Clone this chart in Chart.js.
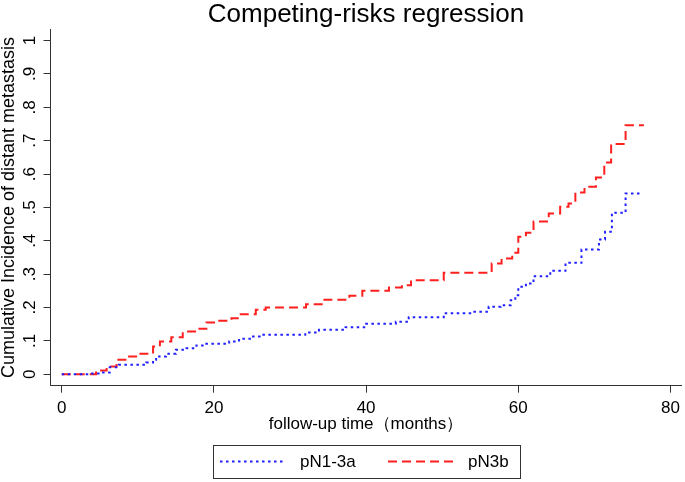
<!DOCTYPE html>
<html>
<head>
<meta charset="utf-8">
<script src="https://cdn.jsdelivr.net/npm/chart.js@4.4.1/dist/chart.umd.min.js"></script>
<style>
  html, body { margin: 0; padding: 0; background: #fff; }
  canvas { display: block; }
</style>
</head>
<body>
<canvas id="crChart" width="685" height="482"></canvas>
<script>
// data: step times (months) and cumulative incidence after each step
const blueTime = [0, 3.5, 5.0, 6.3, 7.5, 11.1, 12.0, 12.4, 13.7, 15.0, 16.4, 17.7, 19.0, 22.0, 23.3, 25.0, 26.0, 32.0, 33.8, 37.3, 40.0, 43.9, 45.6, 50.2, 54.0, 56.1, 57.7, 59.0, 59.6, 60.0, 61.0, 62.0, 64.2, 66.2, 68.3, 70.6, 71.4, 72.3, 74.1, 76.0];
const blueCI   = [0, .002, .005, .021, .028, .035, .043, .053, .061, .073, .078, .086, .091, .098, .106, .113, .118, .125, .133, .141, .151, .157, .171, .183, .187, .202, .207, .222, .237, .262, .272, .294, .310, .334, .374, .404, .427, .484, .542, .542];

const redTime = [0, 4.5, 5.9, 7.2, 8.7, 10.2, 12.0, 12.9, 14.4, 15.9, 17.7, 19.0, 20.7, 22.3, 23.3, 25.5, 26.8, 32.1, 34.3, 37.8, 39.5, 43.0, 44.7, 45.9, 50.2, 56.5, 57.8, 59.2, 60.0, 61.0, 62.0, 64.0, 65.5, 66.6, 67.5, 68.7, 70.2, 71.3, 72.2, 74.1, 76.5];
const redCI   = [0, .011, .023, .043, .053, .061, .083, .098, .111, .128, .136, .155, .160, .168, .180, .193, .200, .210, .223, .235, .250, .260, .267, .282, .304, .332, .347, .364, .412, .424, .458, .482, .502, .512, .545, .562, .590, .635, .690, .746, .746];

const seriesNames = ['pN1-3a', 'pN3b'];

const xTicks = [0, 20, 40, 60, 80];
const yTicks = [0, .1, .2, .3, .4, .5, .6, .7, .8, .9, 1];
const yTickLabels = ['0', '.1', '.2', '.3', '.4', '.5', '.6', '.7', '.8', '.9', '1'];

const FONT = '"Liberation Sans", Arial, sans-serif';
const AXIS_COLOR = '#333';
const BLUE = '#1f1fff';
const RED = '#ff1f1f';
const BLUE_DASH = [2.5, 3.5];
const RED_DASH = [9, 5];

Chart.defaults.font.family = FONT;
Chart.defaults.color = '#000';

function toPoints(times, vals) {
  return times.map((t, i) => ({ x: t, y: vals[i] }));
}

// rotated y tick labels (Stata style) + boxed legend
const extrasPlugin = {
  id: 'extras',
  afterDraw(chart) {
    const ctx = chart.ctx;
    const ys = chart.scales.y;
    ctx.save();
    ctx.fillStyle = '#000';
    ctx.font = '17px ' + FONT;
    ctx.textAlign = 'center';
    ctx.textBaseline = 'middle';
    yTicks.forEach((v, i) => {
      const py = ys.getPixelForValue(v);
      ctx.save();
      ctx.translate(30, py);
      ctx.rotate(-Math.PI / 2);
      ctx.fillText(yTickLabels[i], 0, 0);
      ctx.restore();
    });
    ctx.restore();

    // legend
    ctx.save();
    ctx.strokeStyle = AXIS_COLOR;
    ctx.lineWidth = 1;
    ctx.strokeRect(213.5, 445.5, 307, 33);

    ctx.lineWidth = 2;
    ctx.strokeStyle = BLUE;
    ctx.setLineDash(BLUE_DASH);
    ctx.beginPath();
    ctx.moveTo(220, 461.5);
    ctx.lineTo(286, 461.5);
    ctx.stroke();

    ctx.strokeStyle = RED;
    ctx.setLineDash(RED_DASH);
    ctx.beginPath();
    ctx.moveTo(388, 461.5);
    ctx.lineTo(456, 461.5);
    ctx.stroke();

    ctx.setLineDash([]);
    ctx.fillStyle = '#000';
    ctx.font = '17px ' + FONT;
    ctx.textAlign = 'left';
    ctx.textBaseline = 'middle';
    ctx.fillText(seriesNames[0], 300, 462);
    ctx.fillText(seriesNames[1], 468, 462);
    ctx.restore();
  }
};

new Chart(document.getElementById('crChart'), {
  type: 'line',
  data: {
    datasets: [{
      label: seriesNames[0],
      data: toPoints(blueTime, blueCI),
      borderColor: BLUE,
      borderWidth: 2,
      borderDash: BLUE_DASH,
      stepped: true,
      pointRadius: 0,
      fill: false
    }, {
      label: seriesNames[1],
      data: toPoints(redTime, redCI),
      borderColor: RED,
      borderWidth: 2,
      borderDash: RED_DASH,
      stepped: true,
      pointRadius: 0,
      fill: false
    }]
  },
  options: {
    responsive: false,
    animation: false,
    devicePixelRatio: 1,
    layout: { padding: { top: 0.7, right: 2.3, bottom: 47.8, left: 0 } },
    plugins: {
      legend: { display: false },
      tooltip: { enabled: false },
      title: {
        display: true,
        text: 'Competing-risks regression',
        fullSize: false,
        color: '#000',
        font: { size: 26, weight: 'normal', lineHeight: 1.1 },
        padding: 0
      }
    },
    scales: {
      x: {
        type: 'linear',
        min: -1.48,
        max: 81.45,
        afterBuildTicks: s => { s.ticks = xTicks.map(v => ({ value: v })); },
        afterFit: s => { s.height = 48.5; },
        grid: { drawOnChartArea: false, drawTicks: true, tickLength: 7, color: AXIS_COLOR, lineWidth: 1 },
        border: { display: true, color: AXIS_COLOR, width: 1 },
        ticks: { font: { size: 17 }, color: '#000', padding: 5, maxRotation: 0 },
        title: {
          display: true,
          text: 'follow-up time（months）',
          color: '#000',
          font: { size: 17 },
          padding: 0
        }
      },
      y: {
        type: 'linear',
        min: -0.0345,
        max: 1.034,
        afterBuildTicks: s => { s.ticks = yTicks.map(v => ({ value: v })); },
        afterFit: s => { s.width = 50.5; },
        grid: { drawOnChartArea: false, drawTicks: true, tickLength: 7, color: AXIS_COLOR, lineWidth: 1 },
        border: { display: true, color: AXIS_COLOR, width: 1 },
        ticks: { display: false },
        title: {
          display: true,
          text: 'Cumulative Incidence of distant metastasis',
          color: '#000',
          font: { size: 18, lineHeight: 1.0 },
          padding: { top: 0.5, bottom: 0 }
        }
      }
    }
  },
  plugins: [extrasPlugin]
});
</script>
</body>
</html>
